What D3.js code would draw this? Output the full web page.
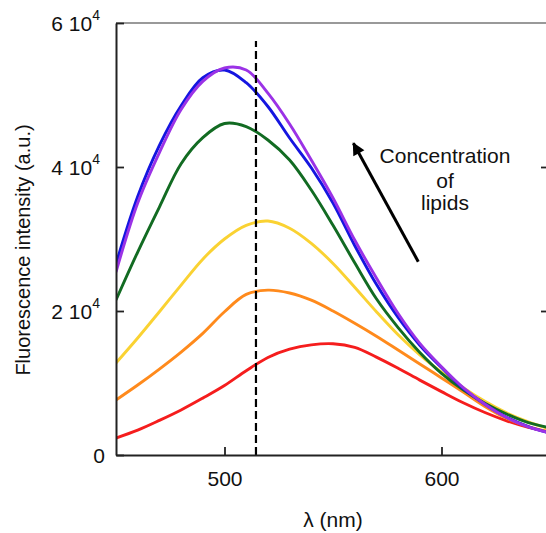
<!DOCTYPE html>
<html><head><meta charset="utf-8">
<script src="https://cdn.jsdelivr.net/npm/d3@7"></script>
<style>
body{margin:0;background:#fff}
svg{display:block}
text{font-family:"Liberation Sans",Arial,sans-serif;fill:#111}
</style>
</head><body>
<svg id="chart" width="546" height="533"></svg>
<script>
// ---------- data ----------
const wavelengths = [450,460,470,480,490,500,510,520,530,540,550,560,570,580,590,600,610,620,630,640,650];
const redSeries    = [2360,3450,4800,6250,7900,9650,11700,13550,14700,15300,15450,14950,13600,12050,10400,8800,7250,5900,4750,3850,3190];
const orangeSeries = [7640,9720,11940,14300,16900,19900,22300,22900,22500,21500,20000,18300,16500,14580,12650,10700,8750,6750,5100,3950,3190];
const yellowSeries = [12780,16250,19900,23600,27200,30000,31900,32500,31500,29400,26600,23300,19900,16700,13900,11500,9350,7450,5850,4600,3600];
const greenSeries  = [21530,28190,34440,40460,44080,46040,45620,43750,40970,36800,31900,26700,21700,17700,14250,11350,9050,7200,5700,4500,3750];
const blueSeries   = [26530,35900,43000,48500,52400,53470,51710,48400,44030,39900,35000,29100,23700,19100,15250,12150,9250,7050,5250,3950,3060];
const purpleSeries = [25420,35000,42000,48000,51900,53750,53470,50250,45970,40970,35700,29860,24580,19650,15500,12250,9350,7050,5200,3900,3060];
const seriesNames  = ["red","orange","yellow","green","blue","purple"];
const seriesColors = ["#f51d1d","#ff8a1c","#fad232","#126b22","#1515e0","#9b32e6"];
const xTickValues = [500,600];
const xTickLabels = ["500","600"];
const yTickValues = [0,20000,40000,60000];
const yTickMantissa = ["0","2","4","6"];
const xAxisTitle = "λ (nm)";
const yAxisTitle = "Fluorescence intensity (a.u.)";
const dashedWavelength = 514.5;
const dashedTop = 57500;
const arrowStart = [589.3, 26850];
const arrowEnd = [559.4, 43290];
const noteLines = ["Concentration","of","lipids"];
const noteX = 601.6;
const noteBaselines = [40560, 37080, 34030];

// ---------- layout ----------
const svg = d3.select("#chart");
const x = d3.scaleLinear().domain([450,650]).range([116,550]);
const y = d3.scaleLinear().domain([0,60000]).range([455,23]);
const allSeries = [redSeries,orangeSeries,yellowSeries,greenSeries,blueSeries,purpleSeries];

svg.append("defs").append("clipPath").attr("id","plotclip")
  .append("rect").attr("x",x(450)).attr("y",y(60000)).attr("width",x(650)-x(450)).attr("height",y(0)-y(60000));

const marker = svg.select("defs").append("marker")
  .attr("id","arrowhead").attr("viewBox","0 0 10 10").attr("refX",9).attr("refY",5)
  .attr("markerWidth",5).attr("markerHeight",4.2).attr("orient","auto").attr("markerUnits","strokeWidth");
marker.append("path").attr("d","M0,0 L10,5 L0,10 z").attr("fill","#000");

// frame
svg.append("line").attr("x1",x(450)).attr("x2",x(650)).attr("y1",y(60000)).attr("y2",y(60000))
  .attr("stroke","#777").attr("stroke-width",1.5);
svg.append("line").attr("x1",x(650)).attr("x2",x(650)).attr("y1",y(60000)).attr("y2",y(0))
  .attr("stroke","#333").attr("stroke-width",1.5);

// curves
const line = d3.line().x((d,i)=>x(wavelengths[i])).y(d=>y(d)).curve(d3.curveCatmullRom.alpha(0.5));
const g = svg.append("g").attr("clip-path","url(#plotclip)");
allSeries.forEach((s,k)=>{
  g.append("path").datum(s).attr("d",line).attr("fill","none")
   .attr("stroke",seriesColors[k]).attr("stroke-width",2.9).attr("stroke-linejoin","round")
   .attr("class","series-"+seriesNames[k]);
});

// dashed line
svg.append("line").attr("x1",x(dashedWavelength)).attr("x2",x(dashedWavelength))
  .attr("y1",y(0)).attr("y2",y(dashedTop))
  .attr("stroke","#000").attr("stroke-width",2.2).attr("stroke-dasharray","8,4");

// axes
const xAxis = d3.axisBottom(x).tickValues(xTickValues).tickFormat((d,i)=>xTickLabels[i]).tickSizeInner(-8).tickSizeOuter(0).tickPadding(16);
const gx = svg.append("g").attr("transform",`translate(0,${y(0)})`).call(xAxis);
gx.select(".domain").attr("stroke","#222").attr("stroke-width",2);
gx.selectAll(".tick line").attr("stroke","#222").attr("stroke-width",1.8);
gx.selectAll(".tick text").attr("font-size",21).attr("font-family","Liberation Sans, Arial, sans-serif").attr("fill","#111");

const yAxis = d3.axisLeft(y).tickValues(yTickValues).tickFormat("").tickSizeInner(-8).tickSizeOuter(0);
const gy = svg.append("g").attr("transform",`translate(${x(450)},0)`).call(yAxis);
gy.select(".domain").attr("stroke","#222").attr("stroke-width",2);
gy.selectAll(".tick line").attr("stroke","#222").attr("stroke-width",1.8);

const yAxisR = d3.axisRight(y).tickValues(yTickValues.slice(1,3)).tickFormat("").tickSizeInner(-9).tickSizeOuter(0);
const gyr = svg.append("g").attr("transform",`translate(${x(650)},0)`).call(yAxisR);
gyr.select(".domain").remove();
gyr.selectAll(".tick line").attr("stroke","#222").attr("stroke-width",1.8);

// y tick labels with exponent
yTickValues.forEach((v,i)=>{
  const t = svg.append("text").attr("y",y(v)).attr("dy","0.36em").attr("font-size",21).attr("text-anchor","end");
  if (v===0) { t.attr("x",105).text(yTickMantissa[i]); }
  else {
    t.attr("x",100);
    t.append("tspan").text(yTickMantissa[i]+" 10");
    t.append("tspan").attr("font-size",14).attr("dy","-0.75em").text("4");
  }
});

// axis titles
svg.append("text").attr("x",(x(450)+x(650))/2).attr("y",527).attr("text-anchor","middle")
  .attr("font-size",21).text(xAxisTitle);
svg.append("text").attr("transform","translate(30,250) rotate(-90)").attr("text-anchor","middle")
  .attr("font-size",20).text(yAxisTitle);

// annotation
svg.append("line").attr("x1",x(arrowStart[0])).attr("y1",y(arrowStart[1]))
  .attr("x2",x(arrowEnd[0])).attr("y2",y(arrowEnd[1]))
  .attr("stroke","#000").attr("stroke-width",3).attr("marker-end","url(#arrowhead)");
noteLines.forEach((s,i)=>{
  svg.append("text").attr("x",x(noteX)).attr("y",y(noteBaselines[i])).attr("text-anchor","middle")
    .attr("font-size",21).text(s);
});
</script>
</body></html>
